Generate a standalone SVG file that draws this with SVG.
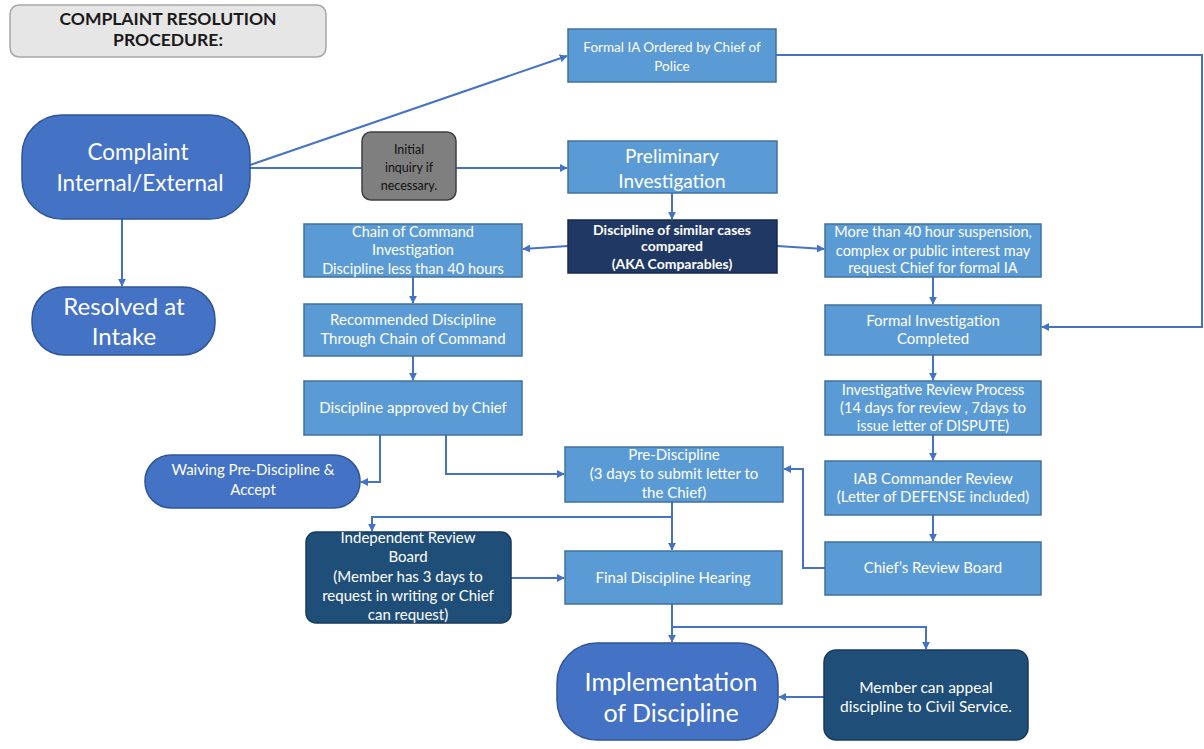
<svg xmlns="http://www.w3.org/2000/svg" width="1204" height="749" viewBox="0 0 1204 749">
<style>
.box{fill:#5b9bd5;stroke:#41719c;stroke-width:1.5}
.pill{fill:#4472c4;stroke:#2f5597;stroke-width:1.5}
.navy{fill:#1f3864;stroke:#172a4d;stroke-width:1.5}
.dark{fill:#1f4e79;stroke:#173a5c;stroke-width:1.5}
.t{font-family:Lato,"Liberation Sans",sans-serif;fill:#fff;text-anchor:middle}
.s12{font-size:14.5px}
.s11{font-size:14px}
.s15{font-size:15px}
.con{fill:none;stroke:#4472c4;stroke-width:2}
</style>
<defs>
<marker id="ar" viewBox="0 0 10 10" refX="9" refY="5" markerWidth="4" markerHeight="4" orient="auto" markerUnits="strokeWidth">
<path d="M0,0 L10,5 L0,10 z" fill="#4472c4"/>
</marker>
</defs>
<rect width="1204" height="749" fill="#fff"/>

<g id="connectors">
<line class="con" x1="250" y1="165" x2="567" y2="56" marker-end="url(#ar)"/>
<line class="con" x1="250" y1="168" x2="362" y2="168"/>
<line class="con" x1="456" y1="168" x2="567" y2="168" marker-end="url(#ar)"/>
<line class="con" x1="122" y1="219" x2="122" y2="286" marker-end="url(#ar)"/>
<polyline class="con" points="776,55 1202,55 1202,327 1042,327" marker-end="url(#ar)"/>
<line class="con" x1="672" y1="193" x2="672" y2="219" marker-end="url(#ar)"/>
<line class="con" x1="568" y1="246" x2="523" y2="249" marker-end="url(#ar)"/>
<line class="con" x1="777" y1="246" x2="824" y2="249" marker-end="url(#ar)"/>
<line class="con" x1="933" y1="277" x2="933" y2="304" marker-end="url(#ar)"/>
<line class="con" x1="933" y1="355" x2="933" y2="380" marker-end="url(#ar)"/>
<line class="con" x1="933" y1="435" x2="933" y2="460" marker-end="url(#ar)"/>
<line class="con" x1="933" y1="515" x2="933" y2="541" marker-end="url(#ar)"/>
<polyline class="con" points="825,568 803,568 803,469 784,469" marker-end="url(#ar)"/>
<line class="con" x1="413" y1="277" x2="413" y2="303" marker-end="url(#ar)"/>
<line class="con" x1="413" y1="356" x2="413" y2="380" marker-end="url(#ar)"/>
<polyline class="con" points="380,435 380,482 361,482" marker-end="url(#ar)"/>
<polyline class="con" points="446,435 446,474 564,474" marker-end="url(#ar)"/>
<line class="con" x1="672" y1="502" x2="672" y2="550" marker-end="url(#ar)"/>
<polyline class="con" points="672,517 372,517 372,531" marker-end="url(#ar)"/>
<line class="con" x1="511" y1="578" x2="564" y2="578" marker-end="url(#ar)"/>
<line class="con" x1="672" y1="604" x2="672" y2="642" marker-end="url(#ar)"/>
<polyline class="con" points="672,627 926,627 926,649" marker-end="url(#ar)"/>
<line class="con" x1="824" y1="697" x2="779" y2="697" marker-end="url(#ar)"/>
</g>

<g id="title">
<rect x="10" y="5" width="316" height="52" rx="9" fill="#e7e6e6" stroke="#a6a6a6" stroke-width="1.5"/>
<text x="168" y="25" font-family="Lato,'Liberation Sans',sans-serif" font-size="17.5" font-weight="bold" fill="#1a1a1a" text-anchor="middle">COMPLAINT RESOLUTION</text>
<text x="168" y="46" font-family="Lato,'Liberation Sans',sans-serif" font-size="17.5" font-weight="bold" fill="#1a1a1a" text-anchor="middle">PROCEDURE:</text>
</g>

<g id="complaint">
<rect class="pill" x="22" y="115" width="228" height="104" rx="40"/>
<text class="t" x="138" y="160" font-size="22.5">Complaint</text>
<text class="t" x="140" y="191" font-size="22.5">Internal/External</text>
</g>

<g id="resolved">
<rect class="pill" x="32" y="287" width="183" height="68" rx="32"/>
<text class="t" x="124" y="315" font-size="24">Resolved at</text>
<text class="t" x="124" y="345" font-size="24">Intake</text>
</g>

<g id="formal-ia">
<rect class="box" x="568" y="29" width="208" height="53"/>
<text class="t" x="672" y="52" font-size="13.5">Formal IA Ordered by Chief of</text>
<text class="t" x="672" y="71" font-size="13.5">Police</text>
</g>

<g id="initial-inquiry">
<rect x="362" y="132" width="94" height="68" rx="9" fill="#7f7f7f" stroke="#404040" stroke-width="1.5"/>
<text x="409" y="154" font-family="Lato,'Liberation Sans',sans-serif" font-size="12.5" fill="#111" text-anchor="middle">Initial</text>
<text x="409" y="172" font-family="Lato,'Liberation Sans',sans-serif" font-size="12.5" fill="#111" text-anchor="middle">inquiry if</text>
<text x="409" y="190" font-family="Lato,'Liberation Sans',sans-serif" font-size="12.5" fill="#111" text-anchor="middle">necessary.</text>
</g>

<g id="preliminary">
<rect class="box" x="568" y="141" width="209" height="52"/>
<text class="t" x="672" y="163" font-size="19">Preliminary</text>
<text class="t" x="672" y="188" font-size="19">Investigation</text>
</g>

<g id="comparables">
<rect class="navy" x="568" y="220" width="209" height="53"/>
<text class="t s11" x="672" y="235" font-weight="bold">Discipline of similar cases</text>
<text class="t s11" x="672" y="251" font-weight="bold">compared</text>
<text class="t s11" x="672" y="269" font-weight="bold">(AKA Comparables)</text>
</g>

<g id="chain-of-command">
<rect class="box" x="304" y="224" width="218" height="53"/>
<text class="t s12" x="413" y="237">Chain of Command</text>
<text class="t s12" x="413" y="255">Investigation</text>
<text class="t s12" x="413" y="274">Discipline less than 40 hours</text>
</g>

<g id="more-than-40">
<rect class="box" x="825" y="224" width="216" height="53"/>
<text class="t s12" x="933" y="237">More than 40 hour suspension,</text>
<text class="t s12" x="933" y="256">complex or public interest may</text>
<text class="t s12" x="933" y="273">request Chief for formal IA</text>
</g>

<g id="recommended">
<rect class="box" x="304" y="304" width="218" height="52"/>
<text class="t s15" x="413" y="325">Recommended Discipline</text>
<text class="t s15" x="413" y="344">Through Chain of Command</text>
</g>

<g id="approved">
<rect class="box" x="304" y="381" width="218" height="54"/>
<text class="t s15" x="413" y="413">Discipline approved by Chief</text>
</g>

<g id="waiving">
<rect class="pill" x="145" y="455" width="215" height="53" rx="26"/>
<text class="t s15" x="253" y="475">Waiving Pre-Discipline &amp;</text>
<text class="t s15" x="253" y="495">Accept</text>
</g>

<g id="formal-investigation">
<rect class="box" x="825" y="305" width="216" height="50"/>
<text class="t s15" x="933" y="326">Formal Investigation</text>
<text class="t s15" x="933" y="344">Completed</text>
</g>

<g id="investigative-review">
<rect class="box" x="825" y="381" width="216" height="54"/>
<text class="t s12" x="933" y="395">Investigative Review Process</text>
<text class="t s12" x="933" y="413">(14 days for review , 7days to</text>
<text class="t s12" x="933" y="431">issue letter of DISPUTE)</text>
</g>

<g id="iab-review">
<rect class="box" x="825" y="461" width="216" height="54"/>
<text class="t s15" x="933" y="484">IAB Commander Review</text>
<text class="t s15" x="933" y="502">(Letter of DEFENSE included)</text>
</g>

<g id="chiefs-review-board">
<rect class="box" x="825" y="542" width="216" height="53"/>
<text class="t s15" x="933" y="573">Chief’s Review Board</text>
</g>

<g id="pre-discipline">
<rect class="box" x="565" y="447" width="218" height="55"/>
<text class="t s15" x="674" y="460">Pre-Discipline</text>
<text class="t s15" x="674" y="479">(3 days to submit letter to</text>
<text class="t s15" x="674" y="498">the Chief)</text>
</g>

<g id="independent-review-board">
<rect class="dark" x="306" y="532" width="205" height="91" rx="10"/>
<text class="t s15" x="408" y="543">Independent Review</text>
<text class="t s15" x="408" y="562">Board</text>
<text class="t s15" x="408" y="582">(Member has 3 days to</text>
<text class="t s15" x="408" y="601">request in writing or Chief</text>
<text class="t s15" x="408" y="620">can request)</text>
</g>

<g id="final-hearing">
<rect class="box" x="565" y="551" width="217" height="53"/>
<text class="t s15" x="673" y="583">Final Discipline Hearing</text>
</g>

<g id="implementation">
<rect class="pill" x="557" y="643" width="221" height="97" rx="40"/>
<text class="t" x="671" y="691" font-size="25">Implementation</text>
<text class="t" x="671" y="722" font-size="25">of Discipline</text>
</g>

<g id="civil-service">
<rect class="dark" x="824" y="650" width="204" height="90" rx="12"/>
<text class="t" x="926" y="693" font-size="15.5">Member can appeal</text>
<text class="t" x="926" y="712" font-size="15.5">discipline to Civil Service.</text>
</g>
</svg>
